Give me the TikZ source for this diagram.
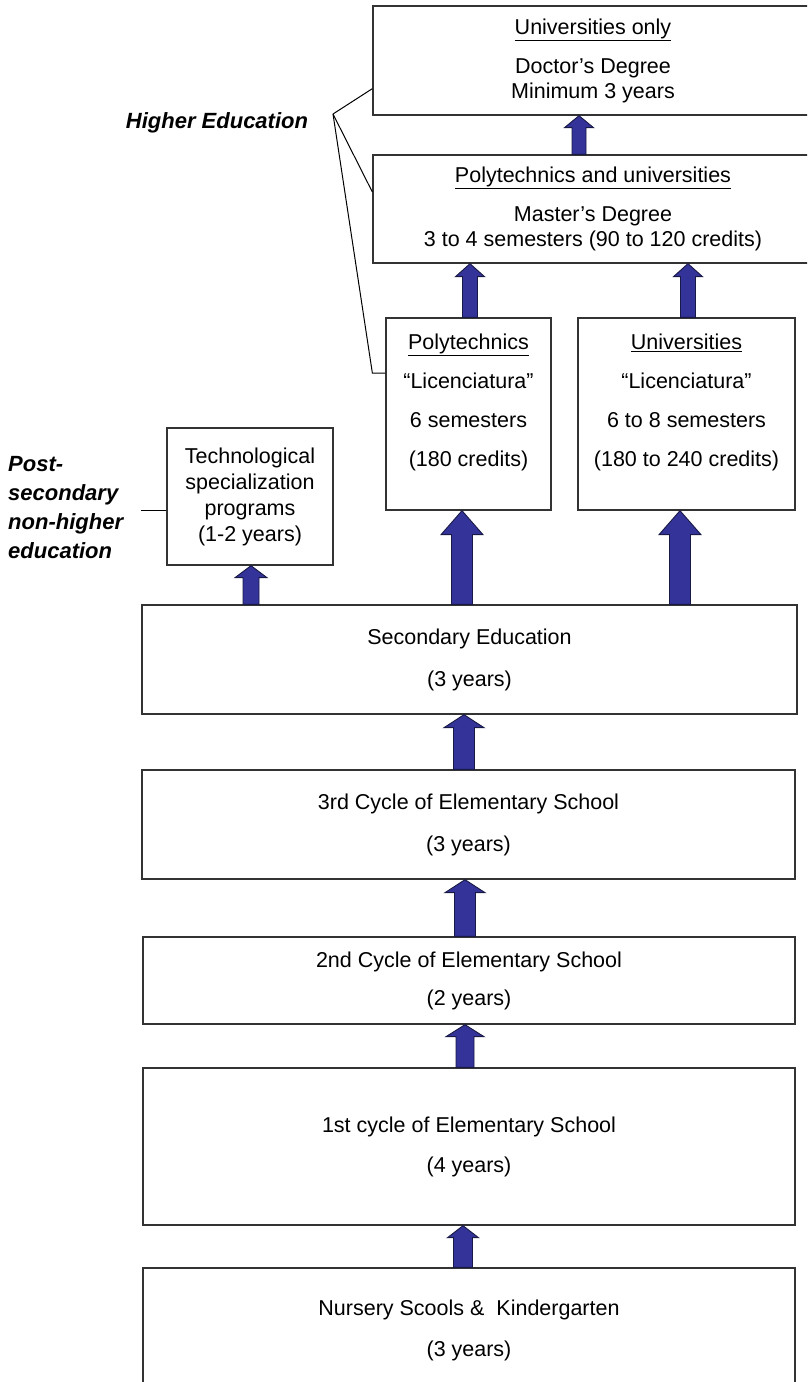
\documentclass[tikz,border=0pt]{standalone}
\usepackage{fontspec}
\setmainfont{Liberation Sans}
\usetikzlibrary{calc}
\definecolor{arrowfill}{RGB}{51,51,153}
\definecolor{arrowline}{RGB}{25,25,70}
\tikzset{
  box/.style={
    draw=black!80,
    line width=1.3pt,
    fill=white,
    align=center,
    inner sep=0pt,
    font=\fontsize{21.5}{25}\selectfont
  },
  blockarrow/.style={fill=arrowfill, draw=arrowline, line width=0.9pt, line join=miter},
  bracket/.style={draw=black, line width=1pt},
  sidelabel/.style={inner sep=0pt, font=\fontsize{22}{29}\selectfont\bfseries\itshape}
}
% upward block arrow between two anchors, at a given x
\newcommand{\blockup}[6]{
  \coordinate (ax) at (#3,0);
  \filldraw[blockarrow]
    ($(ax |- #1)+(-#4,0)$) -- ($(ax |- #2)+(-#4,#6)$) -- ($(ax |- #2)+(-#5,#6)$)
    -- (ax |- #2) -- ($(ax |- #2)+(#5,#6)$) -- ($(ax |- #2)+(#4,#6)$)
    -- ($(ax |- #1)+(#4,0)$) -- cycle;
}

\begin{document}
\begin{tikzpicture}[x=1pt, y=-1pt]

  \useasboundingbox (0,0) rectangle (807,1382);
  \clip (0,0) rectangle (807,1382);

  % higher education
  \node[box, minimum width=440pt, minimum height=109pt] (doctor) at (593,60.5)
    {\underline{Universities only}\\[14pt]Doctor’s Degree\\Minimum 3 years};
  \node[box, minimum width=440pt, minimum height=108pt] (master) at (593,209)
    {\underline{Polytechnics and universities}\\[14pt]Master’s Degree\\3 to 4 semesters (90 to 120 credits)};
  \node[box, minimum width=165pt, minimum height=192pt] (poly) at (468.5,414)
    {\underline{Polytechnics}\\[14pt]“Licenciatura”\\[14pt]6 semesters\\[14pt](180 credits)\\[3pt]~};
  \node[box, minimum width=217pt, minimum height=192pt] (univ) at (686.5,414)
    {\underline{Universities}\\[14pt]“Licenciatura”\\[14pt]6 to 8 semesters\\[14pt](180 to 240 credits)\\[3pt]~};

  % post-secondary
  \node[box, minimum width=166pt, minimum height=137pt,
        font=\fontsize{21.5}{26}\selectfont] (tech) at (250,496.5)
    {Technological\\specialization\\programs\\(1-2 years)};

  % school levels
  \node[box, minimum width=655pt, minimum height=109pt] (sec) at (469.5,659.5)
    {Secondary Education\\[17pt](3 years)};
  \node[box, minimum width=653pt, minimum height=109pt] (cyc3) at (468.5,824.5)
    {3rd Cycle of Elementary School\\[17pt](3 years)};
  \node[box, minimum width=652pt, minimum height=87pt] (cyc2) at (469,980.5)
    {2nd Cycle of Elementary School\\[13pt](2 years)};
  \node[box, minimum width=652pt, minimum height=157pt] (cyc1) at (469,1146.5)
    {1st cycle of Elementary School\\[15pt](4 years)};
  \node[box, minimum width=652pt, minimum height=124pt] (nursery) at (469,1330)
    {Nursery Scools \&\ \ Kindergarten\\[16pt](3 years)};

  % arrows
  \blockup{master.north}{doctor.south}{579}{7}{14.5}{12}
  \blockup{poly.north}{master.south}{470}{7.5}{14.5}{13}
  \blockup{univ.north}{master.south}{688}{7.5}{14.5}{13}
  \blockup{sec.north}{poly.south}{462}{10.5}{21}{24}
  \blockup{sec.north}{univ.south}{680}{10.5}{21}{24}
  \blockup{sec.north}{tech.south}{251}{8}{16}{12}
  \blockup{cyc3.north}{sec.south}{464}{10.5}{20}{13}
  \blockup{cyc2.north}{cyc3.south}{465}{10.5}{20}{13}
  \blockup{cyc1.north}{cyc2.south}{465}{9}{19}{12}
  \blockup{nursery.north}{cyc1.south}{463}{9.5}{15.5}{12}

  % side labels
  \node[sidelabel] (higher) at (217,123) {Higher Education};
  \node[sidelabel, anchor=west, align=left] (postsec) at (8,508)
    {Post-\\secondary\\non-higher\\education};

  \coordinate (hv) at (333,114);
  \draw[bracket] (hv) -- ([yshift=27pt]doctor.south west);
  \draw[bracket] (hv) -- ([yshift=17pt]master.west);
  \draw[bracket] (hv) -- ([yshift=41pt, xshift=-13pt]poly.west) -- ([yshift=41pt]poly.west);
  \draw[bracket] ([yshift=-13.5pt]tech.west) -- ++(-25,0);

\end{tikzpicture}
\end{document}
